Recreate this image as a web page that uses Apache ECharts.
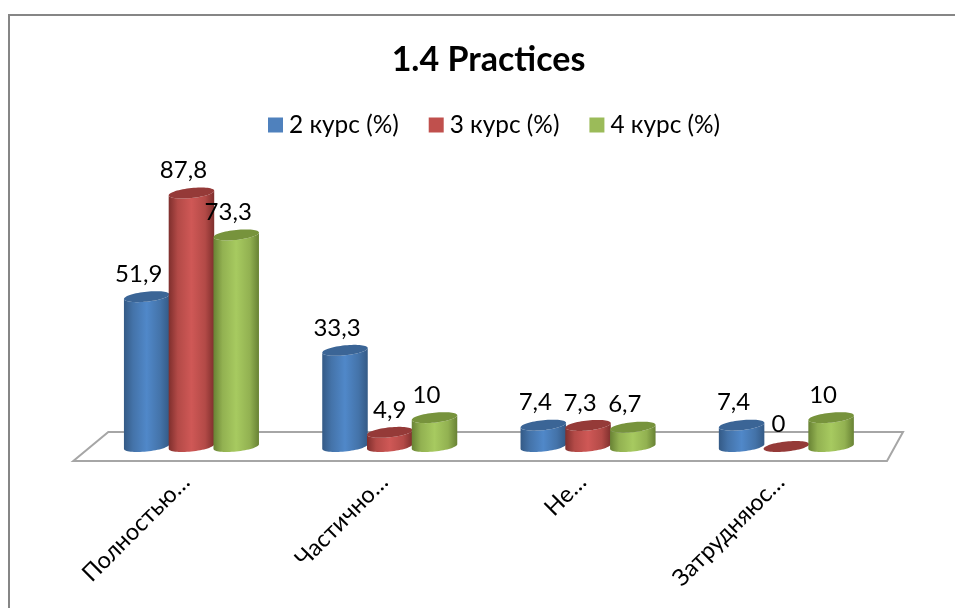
<!DOCTYPE html>
<html>
<head>
<meta charset="utf-8">
<style>
  html, body { margin: 0; padding: 0; background: #fff; overflow: hidden; }
  #chart { width: 955px; height: 608px; }
</style>
<script src="https://cdn.jsdelivr.net/npm/echarts@6/dist/echarts.min.js"></script>
</head>
<body>
<div id="chart"></div>
<script>
const categories = ['Полностью…', 'Частично…', 'Не…', 'Затрудняюс…'];
const course2 = [51.9, 33.3, 7.4, 7.4];
const course3 = [87.8, 4.9, 7.3, 0];
const course4 = [73.3, 10, 6.7, 10];
const seriesNames = ['2 курс (%)', '3 курс (%)', '4 курс (%)'];

const FONT = 'Lato, "Open Sans", sans-serif';

// Colours of each cylinder: legend swatch, cap, and side shading from edge to centre.
const palettes = [
  { swatch: '#4f81bd', cap: '#3b6596', edge: '#345a86', mid: '#4473a9', core: '#5088c9' },
  { swatch: '#c0504d', cap: '#953a38', edge: '#7f2f2d', mid: '#b34a47', core: '#cf5856' },
  { swatch: '#9bbb59', cap: '#77933c', edge: '#688234', mid: '#92b151', core: '#a7ca60' }
];

const BAR_WIDTH = 0.2295;   // cylinder width as a share of the category band
const BAR_STEP = 0.2257;    // distance between neighbouring cylinders in a cluster
const CAP_DEPTH = 5;        // vertical half-axis of the elliptical caps
const CAP_TILT = 2.3;       // how far the right end of a cap rises above the left end
const LABEL_DX = -8;
const LABEL_DY = -22.5;
const labelShifts = { '1:1': 8 }; // the short "4,9" label sits centred on its cylinder

function ellipseArc(cx, cy, a, from, to, steps) {
  const pts = [];
  for (let i = 0; i <= steps; i++) {
    const t = from + (to - from) * i / steps;
    pts.push([cx + a * Math.cos(t), cy + CAP_DEPTH * Math.sin(t) - CAP_TILT * Math.cos(t)]);
  }
  return pts;
}

function cylinderRenderer(seriesIndex) {
  const pal = palettes[seriesIndex];
  const side = new echarts.graphic.LinearGradient(0, 0, 1, 0, [
    { offset: 0, color: pal.edge },
    { offset: 0.2, color: pal.mid },
    { offset: 0.5, color: pal.core },
    { offset: 0.8, color: pal.mid },
    { offset: 1, color: pal.edge }
  ]);
  return function (params, api) {
    const idx = api.value(0);
    const val = api.value(1);
    const top = api.coord([idx, val]);
    const base = api.coord([idx, 0]);
    const band = api.size([1, 0])[0];
    const cx = top[0] + (seriesIndex - 1) * BAR_STEP * band;
    const a = BAR_WIDTH * band / 2;
    const children = [];
    if (val > 0) {
      const body = ellipseArc(cx, base[1], a, 0, Math.PI, 32)
        .concat(ellipseArc(cx, top[1], a, Math.PI, 0, 32));
      children.push({ type: 'polygon', shape: { points: body }, style: { fill: side } });
    }
    children.push({
      type: 'polygon',
      shape: { points: ellipseArc(cx, top[1], a, 0, Math.PI * 2, 64) },
      style: { fill: pal.cap }
    });
    const shift = labelShifts[seriesIndex + ':' + idx] || 0;
    children.push({
      type: 'text',
      style: {
        x: cx + LABEL_DX + shift,
        y: top[1] + LABEL_DY,
        text: String(val).replace('.', ','),
        align: 'center',
        verticalAlign: 'middle',
        fill: '#000',
        font: '24px ' + FONT
      }
    });
    return { type: 'group', children: children };
  };
}

// Plot floor: a flat grey parallelogram lying under the cylinders.
function floorRenderer(params) {
  const r = params.coordSys;
  const left = r.x, right = r.x + r.width, bottom = r.y + r.height;
  return {
    type: 'polygon',
    silent: true,
    shape: {
      points: [
        [left - 19, bottom + 14.5],
        [right + 1.5, bottom + 14.5],
        [right + 17.5, bottom - 14.5],
        [left + 16, bottom - 14.5]
      ]
    },
    style: { fill: '#fff', stroke: '#a6a6a6', lineWidth: 2 }
  };
}

const chart = echarts.init(document.getElementById('chart'), null, { renderer: 'canvas' });

const columns = [course2, course3, course4];

chart.setOption({
  animation: false,
  backgroundColor: '#fff',
  graphic: [{
    type: 'rect',
    z: -10,
    silent: true,
    shape: { x: 9, y: 15, width: 1200, height: 900 },
    style: { fill: 'none', stroke: '#868686', lineWidth: 2 }
  }],
  title: {
    text: '1.4 Practices',
    left: 483.5,
    top: 38,
    textAlign: 'center',
    textStyle: { fontFamily: FONT, fontSize: 34, fontWeight: 'bold', color: '#000' }
  },
  legend: {
    left: 263,
    top: 108,
    itemWidth: 15,
    itemHeight: 15,
    itemGap: 30,
    icon: 'rect',
    data: seriesNames,
    textStyle: { fontFamily: FONT, fontSize: 24.4, color: '#000', padding: [0, 0, 0, 1] }
  },
  grid: { left: 92.3, top: 157.8, width: 793.2, height: 288.7 },
  xAxis: {
    type: 'category',
    data: categories,
    axisLine: { show: false },
    axisTick: { show: false },
    axisLabel: {
      rotate: 45,
      margin: 26,
      interval: 0,
      padding: [0, 8, 0, 0],
      fontFamily: FONT,
      fontSize: 23.5,
      color: '#000'
    }
  },
  yAxis: { type: 'value', min: 0, max: 100, show: false },
  series: [{
    type: 'custom',
    name: 'floor',
    silent: true,
    z: 1,
    data: [[0, 0]],
    renderItem: floorRenderer
  }].concat(columns.map(function (values, s) {
    return {
      type: 'custom',
      name: seriesNames[s],
      z: 2 + s,
      itemStyle: { color: palettes[s].swatch },
      encode: { x: 0, y: 1 },
      data: values.map(function (v, i) { return [i, v]; }),
      renderItem: cylinderRenderer(s)
    };
  }))
});
</script>
</body>
</html>
